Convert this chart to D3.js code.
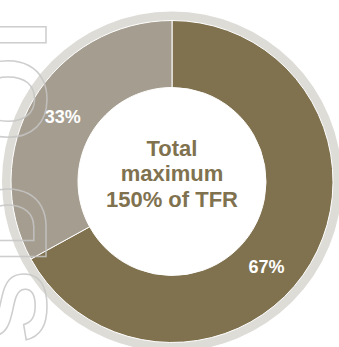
<!DOCTYPE html>
<html>
<head>
<meta charset="utf-8">
<script src="https://cdn.jsdelivr.net/npm/d3@7"></script>
<style>
  html, body { margin: 0; padding: 0; background: #ffffff; overflow: hidden; }
  svg { display: block; }
</style>
</head>
<body>
<svg id="chart" width="339" height="347"></svg>
<script>
// Split of the maximum package between its two components
const categories = ["Larger component", "Smaller component"];
const values = [67, 33];
const valueLabels = ["67%", "33%"];
const centreLines = ["Total", "maximum", "150% of TFR"];
const sliceColours = ["#80724f", "#a59d8f"];
const watermarkText = "SD OI";

const svg = d3.select("#chart");
const cx = 172, cy = 181.5;
const rInner = 94, rOuter = 161, rRing = 170;

const g = svg.append("g").attr("transform", `translate(${cx},${cy})`);

// pale halo ring around the donut
g.append("path")
  .attr("d", d3.arc()({ innerRadius: rOuter, outerRadius: rRing, startAngle: 0, endAngle: 2 * Math.PI }))
  .attr("fill", "#dddcd7");

const pie = d3.pie().sort(null).value(d => d)(values);
const arc = d3.arc().innerRadius(rInner).outerRadius(rOuter);
const colour = d3.scaleOrdinal().domain(categories).range(sliceColours);

g.selectAll("path.slice")
  .data(pie)
  .join("path")
  .attr("class", "slice")
  .attr("d", arc)
  .attr("fill", (d, i) => colour(categories[i]))
  .attr("stroke", "#ffffff")
  .attr("stroke-width", 1);

// percentage labels sit mid-band; the big slice's label leans toward its lower half
const labelR = 127;
const labelFrac = [0.547, 0.5];
g.selectAll("text.pct")
  .data(pie)
  .join("text")
  .attr("class", "pct")
  .attr("x", (d, i) => labelR * Math.sin(d.startAngle + (d.endAngle - d.startAngle) * labelFrac[i]))
  .attr("y", (d, i) => -labelR * Math.cos(d.startAngle + (d.endAngle - d.startAngle) * labelFrac[i]))
  .attr("dy", "0.36em")
  .attr("text-anchor", "middle")
  .attr("font-family", "'Liberation Sans', Arial, sans-serif")
  .attr("font-weight", "bold")
  .attr("font-size", 18)
  .attr("fill", "#ffffff")
  .text((d, i) => valueLabels[i]);

// centre caption
const centre = g.append("text")
  .attr("text-anchor", "middle")
  .attr("font-family", "'Liberation Sans', Arial, sans-serif")
  .attr("font-weight", "bold")
  .attr("font-size", 22)
  .attr("fill", "#80724f");
centre.selectAll("tspan")
  .data(centreLines)
  .join("tspan")
  .attr("x", 0)
  .attr("y", (d, i) => -26 + i * 25.5)
  .text(d => d);

// outlined decorative lettering running up the left edge
svg.append("text")
  .attr("transform", "translate(46,343) rotate(-90)")
  .attr("font-family", "'Liberation Sans', Arial, sans-serif")
  .attr("font-weight", "bold")
  .attr("font-size", 110)
  .attr("letter-spacing", 6)
  .attr("xml:space", "preserve")
  .style("white-space", "pre")
  .attr("fill", "none")
  .attr("stroke", "#c6c6c6")
  .attr("stroke-width", 1.5)
  .attr("opacity", 0.85)
  .text(watermarkText);
</script>
</body>
</html>
